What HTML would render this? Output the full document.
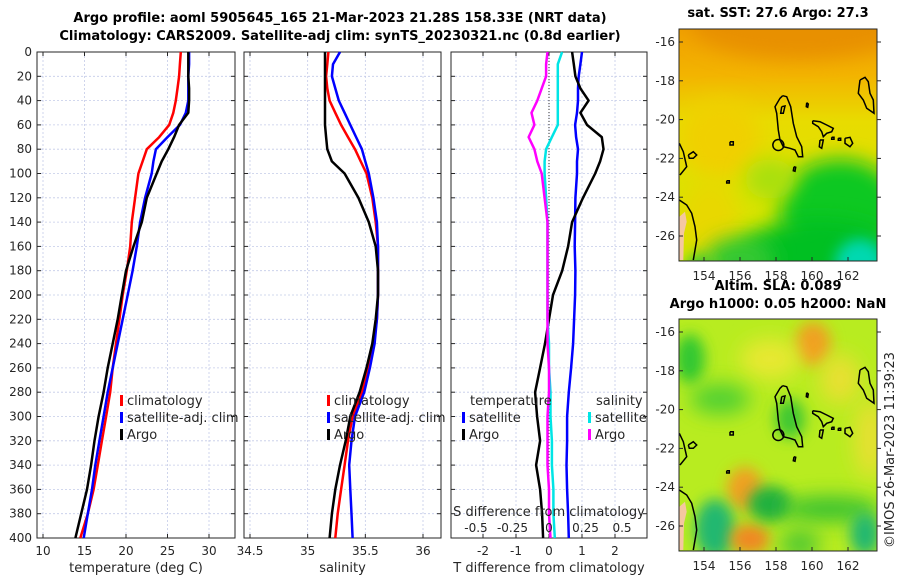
<!DOCTYPE html>
<html><head><meta charset="utf-8"><style>
body{margin:0;background:#fff;}
svg text{font-family:"DejaVu Sans","Liberation Sans",sans-serif;}
</style></head><body>
<svg id="c" width="900" height="580" xmlns="http://www.w3.org/2000/svg">
<defs>
<filter id="blur1" x="-100%" y="-100%" width="300%" height="300%"><feGaussianBlur stdDeviation="10"/></filter>
<filter id="blur2" x="-100%" y="-100%" width="300%" height="300%"><feGaussianBlur stdDeviation="7"/></filter>
<clipPath id="clipTop"><rect x="679" y="29" width="198" height="232"/></clipPath>
<clipPath id="clipBot"><rect x="679" y="319" width="198" height="232"/></clipPath>
<linearGradient id="sstGrad" x1="0" y1="0" x2="0" y2="1">
<stop offset="0" stop-color="#f0a000"/><stop offset="0.2" stop-color="#f3b400"/><stop offset="0.4" stop-color="#e8dc00"/><stop offset="1" stop-color="#d0e800"/>
</linearGradient>
</defs>
<text x="340" y="22" text-anchor="middle" font-size="13" font-weight="bold">Argo profile: aoml 5905645_165 21-Mar-2023 21.28S 158.33E (NRT data)</text>
<text x="340" y="40" text-anchor="middle" font-size="13" font-weight="bold">Climatology: CARS2009. Satellite-adj clim: synTS_20230321.nc (0.8d earlier)</text>
<g id="plots"></g>
<g id="maps"></g>
</svg>
<script>
const NS="http://www.w3.org/2000/svg";
const svg=document.getElementById('plots');
const mapsG=document.getElementById('maps');
// ---- data ----
const depths=[0,10,20,30,40,50,60,70,80,90,100,120,140,160,180,200,220,240,260,280,300,320,340,360,380,400];
const tempClim=[26.6,26.5,26.4,26.2,26.0,25.7,25.2,24.0,22.5,22.0,21.5,21.1,20.7,20.5,20.1,19.6,19.2,18.8,18.4,18.1,17.6,17.1,16.6,16.1,15.4,14.5];
const tempSat=[27.6,27.6,27.5,27.5,27.5,27.2,26.5,25.0,23.6,23.3,23.1,22.3,21.7,21.3,20.8,20.2,19.6,19.0,18.4,17.8,17.3,16.8,16.3,15.9,15.4,14.9];
const tempArgo=[27.5,27.5,27.5,27.6,27.6,27.5,26.4,25.8,25.1,24.3,23.7,22.5,21.9,20.9,20.0,19.5,19.0,18.4,17.8,17.3,16.7,16.2,15.8,15.3,14.6,13.9];
const salClim=[35.18,35.17,35.16,35.17,35.19,35.24,35.29,35.35,35.41,35.46,35.51,35.56,35.59,35.61,35.61,35.61,35.60,35.57,35.53,35.47,35.39,35.35,35.32,35.29,35.26,35.24];
const salSat=[35.28,35.22,35.21,35.24,35.27,35.32,35.37,35.42,35.47,35.50,35.53,35.57,35.60,35.61,35.61,35.61,35.60,35.58,35.54,35.49,35.41,35.38,35.36,35.37,35.38,35.39];
const salArgo=[35.15,35.15,35.15,35.15,35.15,35.15,35.15,35.16,35.17,35.21,35.32,35.44,35.53,35.59,35.61,35.61,35.59,35.56,35.51,35.45,35.37,35.33,35.28,35.24,35.21,35.19];
const dTsat=[1.0,0.95,0.9,0.88,0.88,0.85,0.79,0.82,0.88,0.85,0.85,0.8,0.79,0.78,0.8,0.79,0.76,0.73,0.67,0.6,0.55,0.55,0.53,0.55,0.58,0.6];
const dTargo=[0.7,0.75,0.8,0.95,1.2,0.95,1.15,1.6,1.65,1.55,1.4,1.03,0.7,0.58,0.4,0.12,0.0,-0.12,-0.27,-0.42,-0.36,-0.27,-0.39,-0.27,-0.21,-0.18];
const dSsat=[0.09,0.06,0.06,0.06,0.06,0.06,0.06,0.02,-0.02,-0.03,-0.03,-0.02,-0.01,-0.01,-0.01,-0.01,-0.01,0.0,0.0,0.01,0.01,0.02,0.02,0.03,0.03,0.04];
const dSargo=[-0.01,-0.02,-0.02,-0.05,-0.08,-0.12,-0.1,-0.14,-0.1,-0.08,-0.05,-0.03,-0.01,-0.01,-0.01,-0.01,-0.01,-0.01,0.0,0.0,-0.01,-0.01,-0.01,0.0,0.0,0.01];
const depthTicks=[0,20,40,60,80,100,120,140,160,180,200,220,240,260,280,300,320,340,360,380,400];
const tTicks=[10,15,20,25,30];
const sTicks=[34.5,35,35.5,36];
const dtTicks=[-2,-1,0,1,2];
const dsTicks=[-0.5,-0.25,0,0.25,0.5];
const dsTickLabels=['-0.5','-0.25','0','0.25','0.5'];
// ---- helpers ----
const TOP=52,BOT=538;
const yD=d=>TOP+(d/400)*(BOT-TOP);
function el(tag,attrs,parent){const e=document.createElementNS(NS,tag);for(const k in attrs)e.setAttribute(k,attrs[k]);(parent||svg).appendChild(e);return e;}
function txt(x,y,s,size,anchor,parent){const e=el('text',{x:x,y:y,'font-size':size,'text-anchor':anchor||'middle',fill:'#262626'},parent);e.textContent=s;return e;}
function panel(name,x0,x1,xfn,ticks,labels,showY,xlabel){
  const g=el('g',{});
  
  
  ticks.forEach(t=>{const l=el('line',{x1:xfn(t),x2:xfn(t),y1:TOP,y2:BOT,stroke:'#c4cbe8','stroke-width':0.8,'stroke-dasharray':'2,2'},g);
    });
  depthTicks.forEach(d=>{const l=el('line',{x1:x0,x2:x1,y1:yD(d),y2:yD(d),stroke:'#c4cbe8','stroke-width':0.8,'stroke-dasharray':'2,2'},g);
    
    el('line',{x1:x0,x2:x0+4,y1:yD(d),y2:yD(d),stroke:'#262626'},g);el('line',{x1:x1-4,x2:x1,y1:yD(d),y2:yD(d),stroke:'#262626'},g);
    if(showY){const t=txt(x0-5,yD(d)+4,String(d),12,'end',g);}
  });
  ticks.forEach((t,i)=>{el('line',{x1:xfn(t),x2:xfn(t),y1:BOT,y2:BOT-4,stroke:'#262626'},g);el('line',{x1:xfn(t),x2:xfn(t),y1:TOP,y2:TOP+4,stroke:'#262626'},g);
    if(labels){const tl=txt(xfn(t),BOT+17,labels[i],12,'middle',g);}});
  const fr=el('rect',{x:x0,y:TOP,width:x1-x0,height:BOT-TOP,fill:'none',stroke:'#262626','stroke-width':1},g);
  
  if(xlabel){const xl=txt((x0+x1)/2,BOT+34,xlabel,13,'middle',g);}
  return g;
}
function line(g,vals,xfn,color,w,name){
  const pts=vals.map((v,i)=>xfn(v).toFixed(1)+','+yD(depths[i]).toFixed(1)).join(' ');
  const p=el('polyline',{points:pts,fill:'none',stroke:color,'stroke-width':w||2.5,'stroke-linejoin':'round'},g);
  
  
}
function legendEntry(g,x,y,color,label,name){
  const e=el('g',{},g);
  
  
  if(color)el('rect',{x:x,y:y-10,width:3,height:11,fill:color},e);
  txt(x+(color?7:0),y,label,13,'start',e);
}
// panel 1
const xT=t=>43+(t-10)*(209-43)/20;
const g1=panel('temperature-panel',37,235,xT,tTicks,tTicks.map(String),true,'temperature (deg C)');
line(g1,tempClim,xT,'#ff0000',2.5,'climatology-temperature-line');
line(g1,tempSat,xT,'#0000ff',2.5,'satellite-adj-temperature-line');
line(g1,tempArgo,xT,'#000000',2.5,'argo-temperature-line');
legendEntry(g1,120,405,'#ff0000','climatology','legend-climatology');
legendEntry(g1,120,422,'#0000ff','satellite-adj. clim','legend-satellite-adj');
legendEntry(g1,120,439,'#000000','Argo','legend-argo');
// panel 2
const xS=s=>250+(s-34.5)*(423-250)/1.5;
const g2=panel('salinity-panel',244,441,xS,sTicks,['34.5','35','35.5','36'],false,'salinity');
line(g2,salClim,xS,'#ff0000',2.5,'climatology-salinity-line');
line(g2,salSat,xS,'#0000ff',2.5,'satellite-adj-salinity-line');
line(g2,salArgo,xS,'#000000',2.5,'argo-salinity-line');
legendEntry(g2,327,405,'#ff0000','climatology','legend-climatology');
legendEntry(g2,327,422,'#0000ff','satellite-adj. clim','legend-satellite-adj');
legendEntry(g2,327,439,'#000000','Argo','legend-argo');
// panel 3
const xdT=v=>549+v*33;
const xdS=v=>549+v*146;
const g3=panel('difference-panel',451,647,xdT,dtTicks,dtTicks.map(String),false,'T difference from climatology');
el('line',{x1:549,x2:549,y1:TOP,y2:BOT,stroke:'#333','stroke-width':1,'stroke-dasharray':'1,2'},g3);
line(g3,dTsat,xdT,'#0000ff',2.5,'satellite-t-diff-line');
line(g3,dTargo,xdT,'#000000',2.5,'argo-t-diff-line');
line(g3,dSsat,xdS,'#00e5e5',2.5,'satellite-s-diff-line');
line(g3,dSargo,xdS,'#ff00ff',2.5,'argo-s-diff-line');
legendEntry(g3,470,405,null,'temperature','legend-temperature-header');
legendEntry(g3,462,422,'#0000ff','satellite','legend-t-satellite');
legendEntry(g3,462,439,'#000000','Argo','legend-t-argo');
legendEntry(g3,596,405,null,'salinity','legend-salinity-header');
legendEntry(g3,588,422,'#00e5e5','satellite','legend-s-satellite');
legendEntry(g3,588,439,'#ff00ff','Argo','legend-s-argo');
const st=txt(549,516,'S difference from climatology',13,'middle',g3);

dsTicks.forEach((v,i)=>{const t=txt(xdS(v),532,dsTickLabels[i],12,'middle',g3);
  });

// ---- maps ----
const lonTicks=[154,156,158,160,162];
const latTicks=[-16,-18,-20,-22,-24,-26];
const xLon=l=>704+(l-154)*18;
const yLat=(y0,l)=>y0+13+(-16-l)*19.4;
function coast(g,y0){
  // outlines traced in reference-crop coordinates (3x crop of map region)
  const m=q=>(660+q[0]/3).toFixed(1)+','+(y0-29+q[1]/3).toFixed(1);
  const paths=[
   [[368,287],[380,290],[392,320],[400,370],[410,410],[425,440],[428,470],[415,470],[405,450],[390,445],[370,440],[360,420],[355,390],[350,340],[345,320],[360,295],[368,287]],
   [[458,362],[480,365],[500,375],[520,385],[515,395],[500,400],[490,410],[485,395],[475,380],[458,370],[458,362]],
   [[480,420],[490,420],[485,445],[478,440],[480,420]],
   [[600,240],[615,232],[625,245],[630,280],[640,300],[642,340],[620,325],[610,300],[595,280],[600,240]],
   [[555,415],[570,412],[578,430],[570,440],[555,430],[555,415]],
   [[58,430],[70,455],[80,500],[60,525]],
   [[85,465],[100,455],[110,465],[100,475],[88,475],[85,465]],
   [[58,600],[80,615],[95,640],[105,680],[110,720],[100,780]],
   [[365,320],[375,318],[370,340],[362,340],[365,320]],
   [[440,308],[445,312],[443,322],[439,320],[440,308]],
   [[402,500],[407,502],[405,514],[400,512],[402,500]],
   [[210,425],[220,425],[220,435],[210,435],[210,425]],
   [[200,542],[208,542],[208,549],[200,549],[200,542]],
   [[515,412],[522,412],[522,418],[515,418],[515,412]],
   [[535,415],[542,415],[542,421],[535,421],[535,415]]
  ];
  const land=el('polygon',{points:[[58,650],[75,635],[80,665],[72,700],[70,780],[58,780]].map(m).join(' '),fill:'#f5c7a0'},g);
  
  paths.forEach(p=>{const e=el('polyline',{points:p.map(m).join(' '),fill:'none',stroke:'#000','stroke-width':1.5},g);
    });
  const c=el('circle',{cx:660+355/3,cy:y0-29+435/3,r:5.5,fill:'none',stroke:'#000','stroke-width':1.5},g);
  
}
function mapAxes(name,y0,clip,blobs,base){
  const g=el('g',{},mapsG);
  
  
  const inner=el('g',{'clip-path':'url(#'+clip+')'},g);
  el('rect',{x:679,y:y0,width:198,height:232,fill:base},inner);
  blobs.forEach(b=>{const e=el('ellipse',{cx:b[0],cy:y0+b[1],rx:b[2],ry:b[3],fill:b[4],filter:'url(#'+(b[5]||'blur1')+')'},inner);
    });
  coast(inner,y0);
  el('rect',{x:679,y:y0,width:198,height:232,fill:'none',stroke:'#262626'},g);
  lonTicks.forEach(l=>{el('line',{x1:xLon(l),x2:xLon(l),y1:y0+232,y2:y0+228,stroke:'#262626'},g);
    const t=txt(xLon(l),y0+251,String(l),12,'middle',g);});
  latTicks.forEach(l=>{el('line',{x1:679,x2:683,y1:yLat(y0,l),y2:yLat(y0,l),stroke:'#262626'},g);el('line',{x1:877,x2:881,y1:yLat(y0,l),y2:yLat(y0,l),stroke:'#262626'},g);
    const t=txt(675,yLat(y0,l)+4,String(l),12,'end',g);});
  return g;
}
const sstBlobs=[[800,-5,110,35,'#e89000'],[720,110,40,40,'#f0d000'],[710,190,30,40,'#e8d800'],
 [840,180,60,50,'#10c820'],[820,225,80,35,'#00c020'],[860,235,25,25,'#00d8b0','blur2'],[740,230,35,22,'#30c830'],[770,150,25,20,'#a8e010'],[700,240,15,15,'#40c830','blur2']];
const gSST=mapAxes('sst-map',29,'clipTop',sstBlobs,'#d0e400');
gSST.querySelector('rect').setAttribute('fill','url(#sstGrad)');
const slaBlobs=[[813,25,18,22,'#f0a020','blur2'],[770,40,30,20,'#e8e830'],[690,40,15,25,'#30c830','blur2'],[720,80,30,15,'#50d030'],[745,170,18,22,'#f0a020','blur2'],[715,210,20,30,'#20b870','blur2'],
 [750,220,20,15,'#f08820','blur2'],[770,185,22,18,'#20b040','blur2'],[830,190,50,12,'#30c030'],[865,215,15,22,'#20b870','blur2'],[790,100,15,20,'#40c830','blur2'],[840,60,20,25,'#e8e030'],[800,225,20,15,'#50c830'],[870,120,15,40,'#e8e030']];
mapAxes('sla-map',319,'clipBot',slaBlobs,'#b8ec20');
const mt=[[778,17,'sat. SST: 27.6 Argo: 27.3','sst-map-title'],[778,290,'Altim. SLA: 0.089','sla-map-title-1'],[778,308,'Argo h1000: 0.05 h2000: NaN','sla-map-title-2']];
mt.forEach(a=>{const t=txt(a[0],a[1],a[2],13,'middle',mapsG);t.setAttribute('font-weight','bold');t.setAttribute('fill','#000');
  });
const cr=txt(0,0,'\u00a9IMOS 26-Mar-2023 11:39:23',13,'middle',mapsG);
cr.setAttribute('transform','translate(894,450) rotate(-90)');


</script>
</body></html>
